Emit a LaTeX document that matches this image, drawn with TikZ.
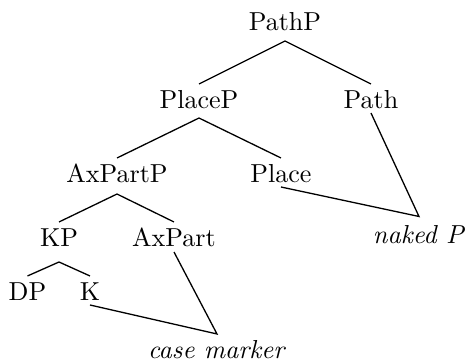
\documentclass[tikz,border=0pt]{standalone}
\begin{document}
\begin{tikzpicture}[x=0.3846pt,y=-0.3846pt,
  lbl/.style={anchor=base,inner sep=0pt,text height=9.04pt,text depth=0pt},
  edge/.style={line width=0.5pt}]
\useasboundingbox (0,0) rectangle (467,363);
\node[lbl] (PathP) at (285,30) {PathP};
\node[lbl] (PlaceP) at (199,108) {PlaceP};
\node[lbl] (Path) at (371,108) {Path};
\node[lbl] (AxPartP) at (117,182) {AxPartP};
\node[lbl] (Place) at (281,182) {Place};
\node[lbl] (KP) at (59,246) {KP};
\node[lbl] (AxPart) at (174,246) {AxPart};
\node[lbl] (DP) at (27.5,300) {DP};
\node[lbl] (K) at (90,300) {K};
\node[lbl,text height=10pt] (naked) at (419,243) {\textit{naked P}};
\node[lbl] (case) at (217,358) {\textit{case marker}};
\draw[edge] (PlaceP.north) -- ([yshift=-4.23pt]PathP.base) -- (Path.north);
\draw[edge] (AxPartP.north) -- ([yshift=-3.85pt]PlaceP.base) -- (Place.north);
\draw[edge] (KP.north) -- ([yshift=-4.62pt]AxPartP.base) -- (AxPart.north);
\draw[edge] (DP.north) -- ([yshift=-6.15pt]KP.base) -- (K.north);
\draw[edge] ([yshift=-1.92pt]Path.base) -- (naked.north) -- ([yshift=-1.92pt]Place.base);
\draw[edge] ([yshift=-2.31pt]AxPart.base) -- (case.north) -- ([yshift=-1.92pt]K.base);
\end{tikzpicture}
\end{document}
